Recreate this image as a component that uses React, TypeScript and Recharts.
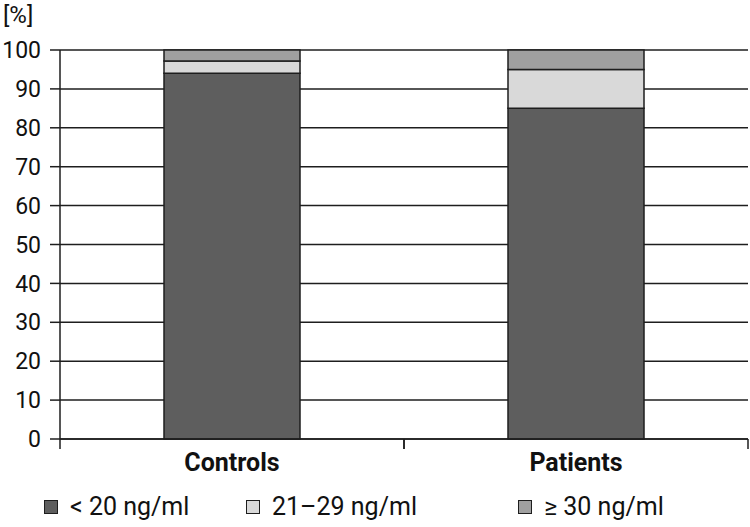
import { Bar, BarChart, CartesianGrid, Legend, XAxis, YAxis } from "recharts";

const groups = ["Controls", "Patients"];
const below20 = [94, 85];
const from21to29 = [3.2, 10];
const atLeast30 = [2.8, 5];
const yTicks = [0, 10, 20, 30, 40, 50, 60, 70, 80, 90, 100];
const seriesKeys = ["low", "mid", "high"];
const seriesNames = ["< 20 ng/ml", "21–29 ng/ml", "≥ 30 ng/ml"];
const seriesColors = ["#5e5e5e", "#d9d9d9", "#a0a0a0"];

const data = groups.map((group, i) => ({
  group,
  low: below20[i],
  mid: from21to29[i],
  high: atLeast30[i],
}));

const FONT = "Roboto, sans-serif";
const INK = "#1e1e1e";

function GroupTick(props: any) {
  const { x, y, payload } = props;
  const half = payload?.offset ?? 0;
  return (
    <g>
      <line x1={x - half} x2={x - half} y1={y - 10} y2={y} stroke={INK} strokeWidth={1.5} />
      <line x1={x + half} x2={x + half} y1={y - 10} y2={y} stroke={INK} strokeWidth={1.5} />
      <text x={x} y={y} dy={22} textAnchor="middle" fontFamily={FONT} fontWeight={700} fontSize={25} fill="#111">
        {payload.value}
      </text>
    </g>
  );
}

function LegendRow() {
  const lefts = [44, 246, 518];
  return (
    <div style={{ position: "relative", height: 48, fontFamily: FONT, fontSize: 25, color: "#111" }}>
      {seriesNames.map((name, i) => (
        <div
          key={name}
          style={{ position: "absolute", left: lefts[i], top: 13, display: "flex", alignItems: "center", whiteSpace: "nowrap", lineHeight: "30px" }}
        >
          <span
            style={{
              display: "inline-block",
              width: 12,
              height: 12,
              background: seriesColors[i],
              border: `1.5px solid ${INK}`,
              marginRight: 12,
            }}
          />
          <span>{name}</span>
        </div>
      ))}
    </div>
  );
}

export default function App() {
  return (
    <div style={{ position: "absolute", left: 0, top: 0, width: 750, height: 527, background: "#fff" }}>
      <div style={{ position: "absolute", left: 3, top: 0, fontFamily: FONT, fontSize: 24, color: "#111", lineHeight: "30px" }}>[%]</div>
      <BarChart width={750} height={527} data={data} margin={{ top: 50, right: 2, bottom: 0, left: 0 }}>
        <CartesianGrid vertical={false} stroke={INK} strokeWidth={1.5} />
        <XAxis
          dataKey="group"
          height={40}
          tickSize={10}
          tickMargin={0}
          tickLine={false}
          axisLine={{ stroke: INK, strokeWidth: 1.5 }}
          tick={<GroupTick />}
        />
        <YAxis
          type="number"
          domain={[0, 100]}
          ticks={yTicks}
          width={60}
          tickSize={10}
          tickMargin={9}
          axisLine={{ stroke: INK, strokeWidth: 1.5 }}
          tickLine={{ stroke: INK, strokeWidth: 1.5 }}
          tick={{ fontFamily: FONT, fontSize: 23, fill: "#111" }}
        />
        <Legend verticalAlign="bottom" height={48} content={() => <LegendRow />} />
        {seriesKeys.map((key, i) => (
          <Bar
            key={key}
            dataKey={key}
            name={seriesNames[i]}
            stackId="a"
            fill={seriesColors[i]}
            stroke={INK}
            strokeWidth={1.5}
            barSize={136}
            isAnimationActive={false}
          />
        ))}
      </BarChart>
    </div>
  );
}
